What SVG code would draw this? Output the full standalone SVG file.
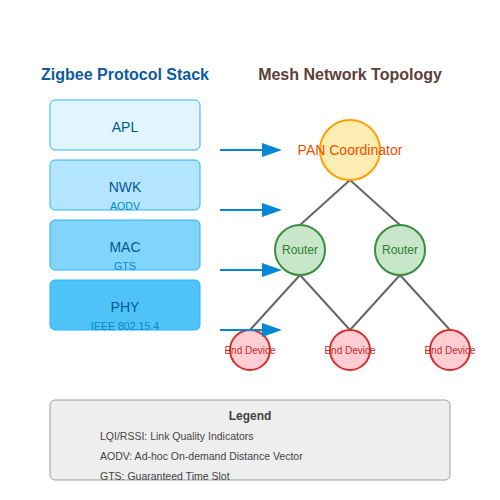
<svg xmlns="http://www.w3.org/2000/svg" width="500" height="500" viewBox="0 0 500 500">
<defs>
<marker id="ah" markerWidth="20" markerHeight="14" refX="0" refY="7" orient="auto" markerUnits="userSpaceOnUse">
<polygon points="0,0 20,7 0,14" fill="#0288d1"/>
</marker>
<style>
text{font-family:"Liberation Sans",Arial,sans-serif}
.title{font-size:16px;font-weight:bold;text-anchor:middle}
.layer rect{stroke:#29b6f6;stroke-width:1}
.lname{font-size:14px;fill:#01579b;text-anchor:middle}
.lsub{font-size:10.6px;fill:#0288d1;text-anchor:middle}
.arrow{stroke:#0288d1;stroke-width:2;fill:none}
.link{stroke:#666;stroke-width:2}
.coord circle{fill:#ffecb3;stroke:#ffa000;stroke-width:2}
.coord text{font-size:14px;fill:#e65100;text-anchor:middle}
.router circle{fill:#c8e6c9;stroke:#388e3c;stroke-width:2}
.router text{font-size:12px;fill:#2e7d32;text-anchor:middle}
.end circle{fill:#ffcdd2;stroke:#d32f2f;stroke-width:2}
.end text{font-size:10px;fill:#c62828;text-anchor:middle}
.leg{font-size:10.5px;fill:#444}
</style>
</defs>
<rect width="500" height="500" fill="#ffffff"/>
<text class="title" x="125" y="80" fill="#0d5a9e">Zigbee Protocol Stack</text>
<text class="title" x="350" y="80" fill="#5d4037">Mesh Network Topology</text>

<g id="apl" class="layer"><rect x="50" y="100" width="150" height="50" rx="5" fill="#e1f5fe"/><text class="lname" x="125" y="132">APL</text></g>
<g id="nwk" class="layer"><rect x="50" y="160" width="150" height="50" rx="5" fill="#b3e5fc"/><text class="lname" x="125" y="192">NWK</text><text class="lsub" x="125" y="210">AODV</text></g>
<g id="mac" class="layer"><rect x="50" y="220" width="150" height="50" rx="5" fill="#81d4fa"/><text class="lname" x="125" y="252">MAC</text><text class="lsub" x="125" y="270">GTS</text></g>
<g id="phy" class="layer"><rect x="50" y="280" width="150" height="50" rx="5" fill="#4fc3f7"/><text class="lname" x="125" y="312">PHY</text><text class="lsub" x="125" y="330">IEEE 802.15.4</text></g>

<g id="links">
<line class="link" x1="350" y1="180" x2="300" y2="225"/>
<line class="link" x1="350" y1="180" x2="400" y2="225"/>
<line class="link" x1="300" y1="275" x2="250" y2="330"/>
<line class="link" x1="300" y1="275" x2="350" y2="330"/>
<line class="link" x1="400" y1="275" x2="350" y2="330"/>
<line class="link" x1="400" y1="275" x2="450" y2="330"/>
</g>

<g id="coordinator" class="coord"><circle cx="350" cy="150" r="30"/><text x="350" y="155">PAN Coordinator</text></g>
<g id="router1" class="router"><circle cx="300" cy="250" r="25"/><text x="300" y="254">Router</text></g>
<g id="router2" class="router"><circle cx="400" cy="250" r="25"/><text x="400" y="254">Router</text></g>
<g id="end1" class="end"><circle cx="250" cy="350" r="20"/><text x="250" y="354">End Device</text></g>
<g id="end2" class="end"><circle cx="350" cy="350" r="20"/><text x="350" y="354">End Device</text></g>
<g id="end3" class="end"><circle cx="450" cy="350" r="20"/><text x="450" y="354">End Device</text></g>

<g id="arrows">
<line class="arrow" x1="220" y1="150" x2="262" y2="150" marker-end="url(#ah)"/>
<line class="arrow" x1="220" y1="210" x2="262" y2="210" marker-end="url(#ah)"/>
<line class="arrow" x1="220" y1="270" x2="262" y2="270" marker-end="url(#ah)"/>
<line class="arrow" x1="220" y1="330" x2="262" y2="330" marker-end="url(#ah)"/>
</g>

<g id="legend">
<rect x="50" y="400" width="400" height="80" rx="5" fill="#eeeeee" stroke="#9e9e9e" stroke-width="1"/>
<text x="250" y="420" font-size="12" font-weight="bold" fill="#424242" text-anchor="middle">Legend</text>
<text class="leg" x="100" y="440">LQI/RSSI: Link Quality Indicators</text>
<text class="leg" x="100" y="460">AODV: Ad-hoc On-demand Distance Vector</text>
<text class="leg" x="100" y="480">GTS: Guaranteed Time Slot</text>
</g>
</svg>
